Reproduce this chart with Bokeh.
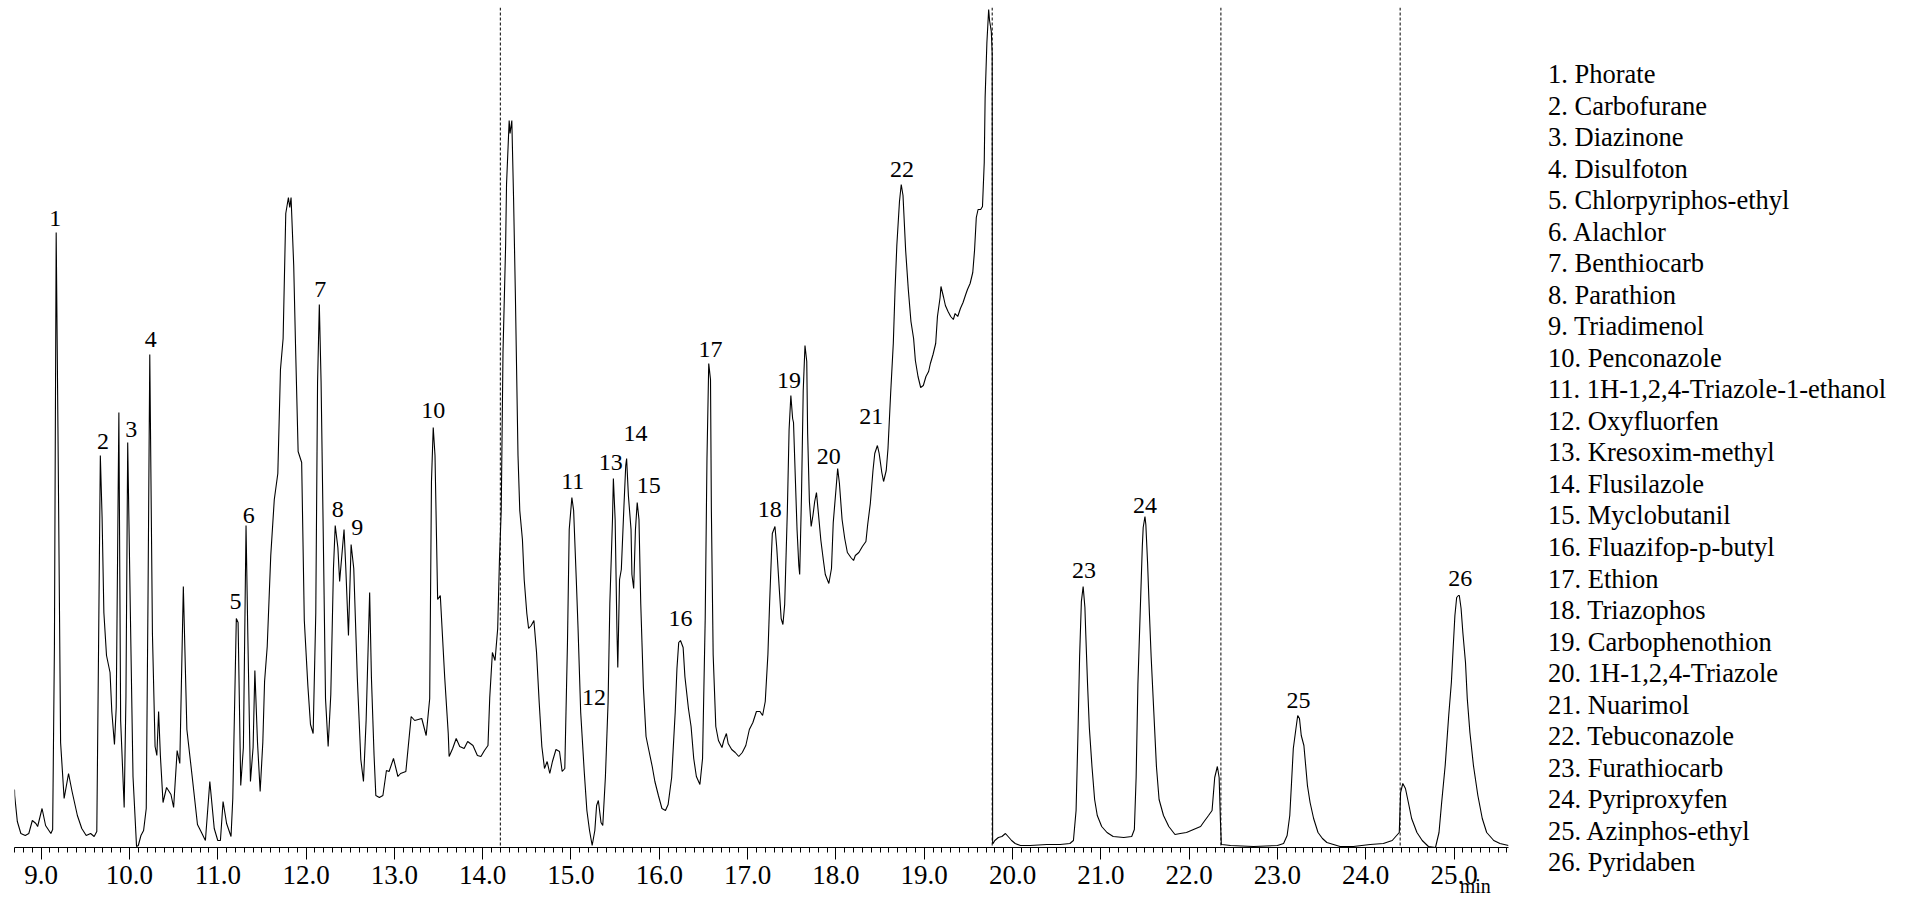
import numpy as np
from bokeh.plotting import figure
from bokeh.layouts import row
from bokeh.models import (Range1d, FixedTicker, Span, NumeralTickFormatter, Div,
                          ColumnDataSource, LinearAxis, CustomJSTickFormatter)
from bokeh.core.properties import value
from bokeh.embed import file_html
from bokeh.resources import INLINE

# ---- chromatogram trace (retention time [min], relative signal) ----
trace_t = [8.698, 8.70, 8.73, 8.77, 8.82, 8.86, 8.90, 8.94, 8.96, 9.01, 9.05, 9.11, 9.13, 9.15, 9.17, 9.19,
           9.22, 9.26, 9.31, 9.35, 9.41, 9.46, 9.51, 9.56, 9.60, 9.63, 9.65, 9.67, 9.69, 9.71, 9.74, 9.78,
           9.80, 9.83, 9.85, 9.88, 9.90, 9.94, 9.96, 9.98, 10.01, 10.04, 10.08, 10.10, 10.13, 10.16, 10.19,
           10.21, 10.23, 10.26, 10.29, 10.31, 10.33, 10.35, 10.38, 10.42, 10.47, 10.50, 10.54, 10.57, 10.61,
           10.65, 10.71, 10.77, 10.81, 10.86, 10.91, 10.96, 11.00, 11.03, 11.06, 11.10, 11.15, 11.17, 11.21,
           11.23, 11.26, 11.29, 11.32, 11.34, 11.37, 11.40, 11.42, 11.45, 11.48, 11.51, 11.53, 11.56, 11.60,
           11.64, 11.68, 11.71, 11.74, 11.77, 11.80, 11.815, 11.83, 11.86, 11.88, 11.91, 11.95, 11.98, 12.02,
           12.05, 12.08, 12.11, 12.13, 12.15, 12.17, 12.20, 12.22, 12.25, 12.28, 12.31, 12.33, 12.36, 12.38,
           12.43, 12.45, 12.48, 12.51, 12.54, 12.58, 12.62, 12.65, 12.68, 12.72, 12.74, 12.77, 12.79, 12.83,
           12.87, 12.91, 12.94, 12.99, 13.04, 13.07, 13.13, 13.19, 13.23, 13.31, 13.36, 13.40, 13.42, 13.44,
           13.46, 13.49, 13.52, 13.57, 13.61, 13.62, 13.66, 13.70, 13.74, 13.79, 13.83, 13.89, 13.94, 13.98,
           14.02, 14.06, 14.08, 14.11, 14.14, 14.17, 14.19,
           14.21, 14.23, 14.26, 14.27, 14.30, 14.31, 14.33, 14.35, 14.37, 14.40, 14.42, 14.45, 14.47, 14.50,
           14.52, 14.55, 14.58, 14.61, 14.64, 14.67, 14.70, 14.73, 14.76, 14.79, 14.83, 14.87, 14.90, 14.93,
           14.96, 14.98, 15.01, 15.03, 15.06, 15.08, 15.11, 15.15, 15.18, 15.21, 15.24, 15.27, 15.29, 15.31,
           15.34, 15.36, 15.39, 15.42, 15.44, 15.47, 15.48, 15.50, 15.52, 15.53, 15.55, 15.57, 15.60, 15.62,
           15.63, 15.65, 15.68, 15.69, 15.71, 15.73, 15.75, 15.77, 15.79, 15.82, 15.85, 15.88, 15.92, 15.95,
           15.99, 16.03, 16.07, 16.10, 16.14, 16.18, 16.20, 16.22, 16.24,
           16.27, 16.29, 16.33, 16.36, 16.39, 16.42, 16.46, 16.49, 16.52, 16.54, 16.56, 16.58, 16.59, 16.61,
           16.64, 16.67, 16.71, 16.73, 16.76, 16.78, 16.82, 16.86, 16.90, 16.94, 16.98, 17.02, 17.06, 17.10,
           17.14, 17.17, 17.20, 17.23, 17.25, 17.27, 17.28, 17.31, 17.33, 17.36, 17.38, 17.40, 17.42, 17.45,
           17.47, 17.49, 17.51, 17.52, 17.54, 17.56, 17.58, 17.59, 17.61, 17.63, 17.65, 17.67, 17.68, 17.70,
           17.72, 17.74, 17.76, 17.78, 17.80, 17.83, 17.86, 17.88, 17.92, 17.95, 17.97, 18.00, 18.02, 18.04,
           18.07, 18.10, 18.13, 18.17, 18.20, 18.22, 18.26, 18.30, 18.34, 18.36, 18.39, 18.42, 18.44, 18.47,
           18.49, 18.52, 18.54, 18.57, 18.59, 18.62, 18.65, 18.67, 18.69, 18.72, 18.74, 18.76, 18.79, 18.82,
           18.85, 18.88, 18.90, 18.93, 18.96, 18.99, 19.02, 19.05, 19.07, 19.10, 19.13, 19.15, 19.18, 19.19,
           19.22, 19.24, 19.27, 19.30, 19.33, 19.35, 19.38, 19.41, 19.44, 19.47, 19.49, 19.52, 19.55, 19.57,
           19.59, 19.61, 19.64, 19.66, 19.68, 19.69, 19.71, 19.73, 19.74, 19.76, 19.77, 19.775,
           19.78, 19.80, 19.84, 19.88, 19.92, 19.95, 19.99, 20.03, 20.09, 20.20, 20.39, 20.54, 20.65, 20.69,
           20.72, 20.74, 20.76, 20.78, 20.80, 20.82, 20.83, 20.85, 20.87, 20.90, 20.93, 20.96, 21.01, 21.07,
           21.14, 21.26, 21.35, 21.38, 21.40, 21.42, 21.45, 21.47, 21.48, 21.50, 21.51, 21.53, 21.55, 21.57,
           21.60, 21.63, 21.66, 21.71, 21.77, 21.84, 21.90, 21.97, 22.05, 22.13, 22.17, 22.22, 22.26, 22.29,
           22.32, 22.34, 22.355, 22.365,
           22.37, 22.47, 22.73, 23.00, 23.07, 23.11, 23.14, 23.16, 23.18, 23.21, 23.23, 23.25, 23.27, 23.30,
           23.32, 23.34, 23.37, 23.41, 23.46, 23.51, 23.56, 23.71, 23.86, 24.05, 24.20, 24.30, 24.35, 24.38,
           24.395, 24.42, 24.45, 24.49, 24.52, 24.58, 24.64, 24.71, 24.79, 24.83, 24.86, 24.90, 24.94, 24.97,
           24.99, 25.01, 25.03, 25.05, 25.06, 25.08, 25.10, 25.13, 25.15, 25.18, 25.22, 25.27, 25.32, 25.37,
           25.45, 25.52, 25.617]
trace_h = [58, 52, 26, 14, 12, 14, 27, 24, 21, 39, 22, 14, 18, 200, 615, 420,
           105, 49, 74, 56, 32, 19, 12, 14, 11, 16, 200, 392, 330, 235, 192, 175,
           136, 103, 140, 435, 127, 40, 150, 405, 235, 71, 1, 2, 12, 17, 39,
           250, 493, 214, 101, 92, 136, 92, 45, 60, 53, 40, 97, 84, 261,
           118, 71, 23, 16, 7, 66, 19, 7, 7, 46, 24, 11, 49, 229,
           225, 62, 100, 322, 214, 66, 100, 177, 105, 56, 105, 166, 201, 292,
           348, 374, 478, 509, 634, 650, 640, 650, 582, 504, 396, 385, 227, 162,
           123, 114, 235, 465, 543, 465, 279, 149, 101, 153, 279, 322, 300, 266,
           318, 279, 212, 303, 279, 170, 88, 66, 127, 255, 170, 92, 52, 50,
           52, 77, 76, 89, 71, 74, 76, 131, 127, 129, 112, 149, 366, 420,
           392, 248, 252, 170, 114, 91, 99, 109, 101, 99, 106, 102, 92, 91,
           97, 102, 150, 195, 187, 219, 288,
           337, 495, 603, 663, 727, 714, 727, 648, 554, 392, 337, 308, 268, 234,
           219, 222, 227, 195, 145, 101, 79, 86, 74, 86, 98, 96, 76, 79,
           204, 318, 350, 337, 268, 219, 135, 76, 37, 17, 2, 17, 42, 47,
           25, 22, 71, 145, 244, 328, 369, 328, 219, 180, 268, 278, 342, 382,
           389, 352, 318, 273, 259, 318, 345, 328, 244, 160, 111, 98, 81, 66,
           52, 39, 37, 43, 70, 135, 179, 205, 207,
           200, 171, 139, 121, 89, 71, 63, 89, 229, 389, 484, 468, 336, 193,
           121, 107, 100, 107, 114, 104, 98, 95, 91, 95, 102, 118, 125, 136,
           136, 132, 146, 193, 246, 293, 314, 321, 300, 257, 229, 223, 243, 336,
           418, 452, 429, 425, 371, 318, 282, 273, 350, 457, 502, 486, 414, 346,
           321, 332, 346, 355, 336, 307, 286, 273, 264, 279, 325, 357, 379, 364,
           328, 309, 295, 290, 287, 292, 295, 301, 306, 323, 344, 377, 394, 402,
           394, 375, 366, 377, 399, 454, 504, 558, 602, 646, 663, 652, 597, 558,
           526, 509, 487, 471, 460, 462, 471, 476, 484, 493, 504, 531, 550, 561,
           550, 542, 536, 531, 528, 534, 531, 539, 545, 553, 558, 564, 575, 597,
           630, 638, 638, 641, 685, 750, 805, 838, 827, 816, 794, 4,
           4, 7, 10, 11, 14, 11, 7, 4, 2, 2, 3, 3, 4, 7,
           37, 109, 191, 246, 261, 240, 213, 163, 120, 81, 48, 32, 21, 15,
           11, 10, 11, 18, 70, 163, 246, 301, 320, 331, 323, 284, 235, 191,
           136, 81, 48, 32, 21, 13, 14, 15, 18, 21, 26, 32, 37, 70,
           81, 70, 26, 3,
           3, 2, 1, 2, 4, 12, 32, 65, 99, 119, 132, 129, 112, 102,
           82, 62, 45, 29, 15, 9, 5, 1, 1, 3, 4, 7, 12, 15,
           55, 64, 59, 42, 29, 15, 7, 1, 0, 15, 45, 82, 132, 165,
           199, 232, 250, 252, 252, 239, 215, 185, 149, 115, 82, 52, 29, 15,
           7, 4, 2]

# ---- peak numbers (label anchor: retention time, signal level) ----
peak_labels = [str(i) for i in range(1, 27)]
label_rt = [9.16, 9.70, 10.02, 10.24, 11.20, 11.35, 12.16, 12.36, 12.58, 13.44,
            15.02, 15.26, 15.45, 15.73, 15.88, 16.24, 16.58, 17.25, 17.47, 17.92,
            18.40, 18.75, 20.81, 21.50, 23.24, 25.07]
label_h = [629, 406, 418, 508, 246, 332, 558, 338, 320, 437,
           366, 150, 385, 414, 362, 229, 498, 338, 467, 391,
           431, 678, 277, 342, 147, 269]

compounds = ["Phorate", "Carbofurane", "Diazinone", "Disulfoton", "Chlorpyriphos-ethyl",
             "Alachlor", "Benthiocarb", "Parathion", "Triadimenol", "Penconazole",
             "1H-1,2,4-Triazole-1-ethanol", "Oxyfluorfen", "Kresoxim-methyl", "Flusilazole",
             "Myclobutanil", "Fluazifop-p-butyl", "Ethion", "Triazophos", "Carbophenothion",
             "1H-1,2,4-Triazole", "Nuarimol", "Tebuconazole", "Furathiocarb", "Pyriproxyfen",
             "Azinphos-ethyl", "Pyridaben"]

segment_breaks = [14.2, 19.77, 22.36, 24.39]
tick_values = [9, 10, 11, 12, 13, 14, 15, 16, 17, 18, 19, 20, 21, 22, 23, 24, 25]
time_start, time_end = 8.698, 25.617
unit_label = "min"

FONT = "Liberation Serif"
H = 900
MAIN_W = 1530
LEG_W = 390

# ---------------- chromatogram ----------------
p = figure(width=MAIN_W, height=H, output_backend="svg", toolbar_location=None,
           x_range=Range1d(time_start, time_end), y_range=Range1d(0, 840),
           y_axis_location=None,
           min_border_left=14, min_border_right=22, min_border_top=7, min_border_bottom=53)
p.outline_line_color = None
p.xgrid.visible = False
p.ygrid.visible = False
p.background_fill_color = "white"
p.border_fill_color = "white"

src = ColumnDataSource(dict(t=trace_t, h=trace_h))
p.line("t", "h", source=src, line_color="black", line_width=1.1)

for b in segment_breaks:
    p.add_layout(Span(location=b, dimension="height", line_color="black",
                      line_width=1, line_dash="3 2"))

lsrc = ColumnDataSource(dict(x=label_rt, y=label_h, txt=peak_labels))
p.text("x", "y", text="txt", source=lsrc, text_font=value(FONT),
       text_font_size=value("24px"), text_align="center", text_baseline="middle",
       text_color="black")

ax = p.xaxis[0]
minor = [round(v, 1) for v in np.arange(8.7, 25.65, 0.1)]
ax.ticker = FixedTicker(ticks=tick_values, minor_ticks=minor)
ax.formatter = NumeralTickFormatter(format="0.0")
ax.major_tick_out = 12
ax.major_tick_in = 0
ax.minor_tick_out = 5
ax.minor_tick_in = 0
ax.axis_line_color = "black"
ax.major_tick_line_color = "black"
ax.minor_tick_line_color = "black"
ax.major_label_text_font = FONT
ax.major_label_text_font_size = "27px"
ax.major_label_text_color = "black"
ax.major_label_standoff = 6

# unit label under the axis, as a second (tick-less) axis
unit_axis = LinearAxis(ticker=FixedTicker(ticks=[25.24]),
                       formatter=CustomJSTickFormatter(code=f"return '{unit_label}'"),
                       axis_line_color=None, major_tick_line_color=None,
                       minor_tick_line_color=None, major_tick_out=0, major_tick_in=0,
                       major_label_standoff=-12, major_label_text_font=FONT,
                       major_label_text_font_size="20px", major_label_text_color="black")
p.add_layout(unit_axis, "below")

# ---------------- compound list ----------------
entries = [f"{i + 1}. {name}" for i, name in enumerate(compounds)]
legend_html = (
    f"<div style=\"font-family:'{FONT}';font-size:26.5px;line-height:31.53px;"
    "color:black;white-space:nowrap;padding-top:59px;padding-left:18px;margin:0;\">"
    + "<br>".join(entries) + "</div>"
)
leg = Div(text=legend_html, width=LEG_W, height=H, margin=0)

layout = row(p, leg)
open("out.html", "w").write(file_html(layout, INLINE))
